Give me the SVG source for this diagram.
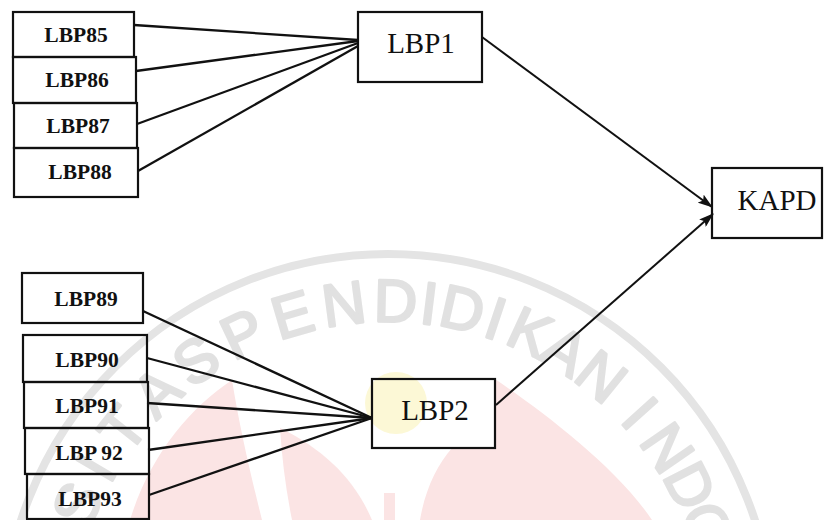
<svg xmlns="http://www.w3.org/2000/svg" width="824" height="520" viewBox="0 0 824 520">
  <style>
    .box { fill: none; stroke: #111; stroke-width: 2.2; }
    .sm { font-family: "Liberation Serif", "Times New Roman", serif; font-weight: bold; font-size: 21.5px; fill: #111; text-anchor: middle; }
    .lg { font-family: "Liberation Serif", "Times New Roman", serif; font-size: 29px; fill: #111; text-anchor: middle; }
    .ln { stroke: #111; stroke-width: 2.3; fill: none; }
    .arr { stroke: #111; stroke-width: 2; fill: none; marker-end: url(#ah); }
    .pink { fill: #fbe4e4; }
    .wm text { fill: #e1e1e1; stroke: #e1e1e1; stroke-width: 2.6; stroke-linejoin: round; font-family: "Liberation Sans", Arial, sans-serif; font-size: 60px; text-anchor: middle; }
  </style>
  <defs>
    <marker id="ah" markerWidth="15" markerHeight="10" refX="14" refY="5" orient="auto" markerUnits="userSpaceOnUse">
      <path d="M0,0 L15,5 L0,10 L3,5 z" fill="#111"/>
    </marker>
  </defs>
  <rect width="824" height="520" fill="#fff"/>

  <g id="watermark">
    <path class="pink" d="M 130,520 C 150,455 190,408 232,380 C 240,430 252,480 262,520 Z"/>
    <path class="pink" d="M 292,520 C 286,490 282,460 280,428 C 325,450 355,480 372,520 Z"/>
    <rect class="pink" x="384" y="493" width="11" height="27"/>
    <path class="pink" d="M 420,520 C 425,490 437,465 452,448 L 495,448 L 495,379 C 540,410 615,465 652,520 Z"/>
    <circle cx="396" cy="403" r="31" fill="#fcf8d6"/>
    <circle cx="388" cy="640" r="386" fill="none" stroke="#e4e4e4" stroke-width="8"/>
    <g class="wm">
      <text transform="translate(76.4,503.9) rotate(-66.4)" dy="0.36em">S</text>
      <text transform="translate(95.1,467.4) rotate(-59.5)" dy="0.36em">I</text>
      <text transform="translate(121.9,428.3) rotate(-51.5)" dy="0.36em">T</text>
      <text transform="translate(156.1,391.3) rotate(-43)" dy="0.36em">A</text>
      <text transform="translate(195.4,359.8) rotate(-34.5)" dy="0.36em">S</text>
      <text transform="translate(242.2,332.9) rotate(-25.4)" dy="0.36em">P</text>
      <text transform="translate(292,313.8) rotate(-16.4)" dy="0.36em">E</text>
      <text transform="translate(343.6,302.9) rotate(-7.5)" dy="0.36em">N</text>
      <text transform="translate(395.7,300.1) rotate(1.3)" dy="0.36em">D</text>
      <text transform="translate(429.4,302.5) rotate(7)" dy="0.36em">I</text>
      <text transform="translate(462.7,308.3) rotate(12.7)" dy="0.36em">D</text>
      <text transform="translate(495.9,317.6) rotate(18.5)" dy="0.36em">I</text>
      <text transform="translate(530.6,331.3) rotate(24.8)" dy="0.36em">K</text>
      <text transform="translate(565.7,350.1) rotate(31.5)" dy="0.36em">A</text>
      <text transform="translate(602,375.8) rotate(39)" dy="0.36em">N</text>
      <text transform="translate(640.7,412.5) rotate(48)" dy="0.36em">I</text>
      <text transform="translate(668.2,447.4) rotate(55.5)" dy="0.36em">N</text>
      <text transform="translate(690.9,485.6) rotate(63)" dy="0.36em">D</text>
      <text transform="translate(708.5,526.5) rotate(70.5)" dy="0.36em">O</text>
    </g>
  </g>

  <g id="connectors">
    <line class="ln" x1="134" y1="25" x2="358" y2="40"/>
    <line class="ln" x1="136" y1="71" x2="358" y2="41"/>
    <line class="ln" x1="137" y1="124" x2="358" y2="43"/>
    <line class="ln" x1="138" y1="171" x2="358" y2="46"/>
    <line class="ln" x1="143" y1="311" x2="372" y2="418"/>
    <line class="ln" x1="147" y1="358" x2="372" y2="418"/>
    <line class="ln" x1="147" y1="403" x2="372" y2="418"/>
    <line class="ln" x1="148" y1="450" x2="372" y2="418"/>
    <line class="ln" x1="149" y1="495" x2="372" y2="418"/>
    <line class="arr" x1="482" y1="37" x2="712" y2="207"/>
    <line class="arr" x1="496" y1="405" x2="713" y2="214"/>
  </g>

  <g id="LBP85"><rect class="box" x="13" y="12" width="121" height="45"/><text class="sm" x="76" y="42">LBP85</text></g>
  <g id="LBP86"><rect class="box" x="13" y="57" width="123" height="46"/><text class="sm" x="77" y="87">LBP86</text></g>
  <g id="LBP87"><rect class="box" x="14" y="103" width="123" height="45"/><text class="sm" x="78" y="133">LBP87</text></g>
  <g id="LBP88"><rect class="box" x="14" y="148" width="124" height="49"/><text class="sm" x="80" y="179">LBP88</text></g>

  <g id="LBP89"><rect class="box" x="22" y="273" width="121" height="50"/><text class="sm" x="86" y="306">LBP89</text></g>
  <g id="LBP90"><rect class="box" x="23" y="335" width="124" height="47"/><text class="sm" x="87" y="367">LBP90</text></g>
  <g id="LBP91"><rect class="box" x="24" y="382" width="124" height="46"/><text class="sm" x="87" y="413">LBP91</text></g>
  <g id="LBP92"><rect class="box" x="25" y="428" width="124" height="46"/><text class="sm" x="89" y="460">LBP 92</text></g>
  <g id="LBP93"><rect class="box" x="27" y="474" width="122" height="45"/><text class="sm" x="90" y="506">LBP93</text></g>

  <g id="LBP1"><rect class="box" x="358" y="12" width="124" height="70"/><text class="lg" x="421" y="53">LBP1</text></g>
  <g id="LBP2"><rect class="box" x="372" y="379" width="123" height="69"/><text class="lg" x="435" y="420">LBP2</text></g>
  <g id="KAPD"><rect class="box" x="712" y="168" width="110" height="70"/><text class="lg" x="777" y="210">KAPD</text></g>
</svg>
